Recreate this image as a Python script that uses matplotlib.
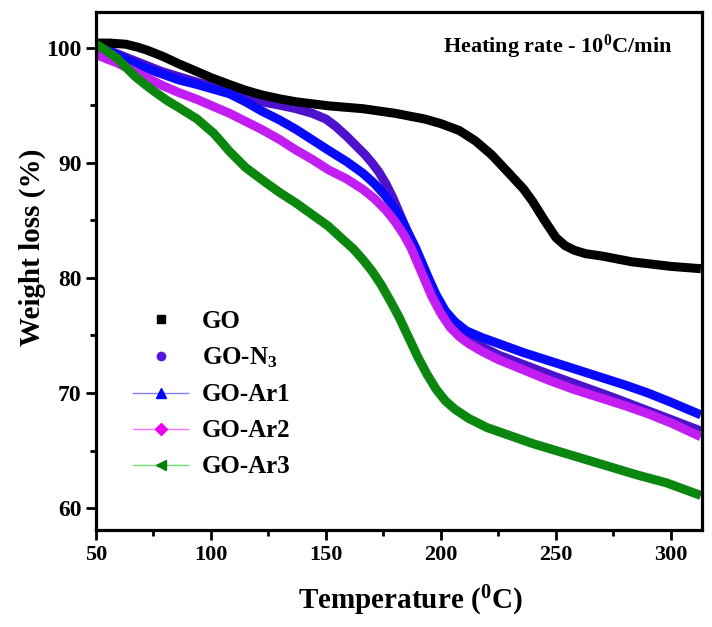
import matplotlib
matplotlib.use("Agg")
import matplotlib.pyplot as plt
from matplotlib.lines import Line2D

plt.rcParams['font.family'] = ['Liberation Serif', 'DejaVu Serif']
plt.rcParams['font.weight'] = 'bold'
plt.rcParams['mathtext.fontset'] = 'custom'
plt.rcParams['mathtext.rm'] = 'Liberation Serif:bold'
plt.rcParams['mathtext.it'] = 'Liberation Serif:bold'
plt.rcParams['mathtext.bf'] = 'Liberation Serif:bold'
plt.rcParams['mathtext.default'] = 'rm'

# ---- data ----
go_T = [50, 56, 63, 68, 72, 79, 86, 93, 100, 108, 115, 122, 130, 137, 145, 151, 166, 180, 193, 200, 208, 215, 222, 230, 236, 240, 245, 250, 254, 258, 263, 270, 283, 300, 313]
go_W = [100.4, 100.4, 100.3, 100.05, 99.8, 99.25, 98.6, 98.0, 97.4, 96.8, 96.3, 95.9, 95.55, 95.3, 95.1, 94.95, 94.7, 94.3, 93.8, 93.4, 92.8, 91.9, 90.7, 89.0, 87.7, 86.6, 85.0, 83.5, 82.8, 82.4, 82.1, 81.9, 81.4, 81.0, 80.8]

n3_T = [50, 54, 65, 79, 94, 108, 115, 122, 130, 137, 144, 150, 154, 159, 163, 167, 170, 173, 176, 179, 182, 185, 188, 191, 195, 200, 205, 210, 218, 225, 250, 275, 300, 313]
n3_W = [99.9, 99.9, 99.0, 97.9, 97.0, 96.2, 95.6, 95.3, 95.0, 94.7, 94.3, 93.8, 93.2, 92.3, 91.5, 90.7, 90.0, 89.2, 88.2, 87.0, 85.6, 84.2, 82.8, 81.0, 79.0, 77.1, 75.9, 75.0, 74.0, 73.3, 71.4, 69.6, 67.7, 66.7]

ar1_T = [50, 54, 60, 65, 72, 79, 86, 94, 101, 108, 115, 122, 130, 137, 144, 151, 159, 166, 171, 176, 180, 183, 186, 189, 192, 195, 198, 202, 206, 211, 218, 225, 236, 247, 258, 269, 280, 290, 300, 313]
ar1_W = [100.1, 99.8, 99.3, 98.8, 98.2, 97.7, 97.2, 96.8, 96.4, 96.0, 95.3, 94.5, 93.7, 92.9, 92.0, 91.1, 90.1, 89.1, 88.2, 87.1, 86.0, 85.0, 83.8, 82.6, 81.2, 79.8, 78.5, 77.1, 76.2, 75.4, 74.8, 74.3, 73.5, 72.8, 72.1, 71.4, 70.7, 70.0, 69.2, 68.1]

ar2_T = [50, 55, 59, 65, 72, 79, 86, 94, 101, 108, 115, 122, 130, 137, 144, 151, 159, 166, 171, 176, 180, 184, 187, 190, 193, 196, 200, 204, 208, 212, 218, 225, 236, 247, 258, 269, 280, 290, 300, 313]
ar2_W = [99.4, 99.0, 98.7, 98.1, 97.4, 96.7, 96.1, 95.5, 94.9, 94.3, 93.6, 92.9, 92.0, 91.1, 90.3, 89.4, 88.6, 87.7, 86.9, 85.9, 84.9, 83.7, 82.6, 81.2, 79.8, 78.4, 76.9, 75.7, 74.9, 74.3, 73.6, 72.9, 72.0, 71.1, 70.3, 69.6, 68.9, 68.2, 67.4, 66.2]

ar3_T = [50, 54, 59, 63, 67, 72, 76, 81, 86, 90, 94, 98, 101, 105, 108, 112, 115, 119, 123, 130, 137, 144, 151, 157, 162, 166, 170, 174, 178, 182, 186, 190, 194, 198, 202, 206, 212, 220, 230, 240, 255, 270, 285, 298, 313]
ar3_W = [100.3, 99.8, 99.1, 98.3, 97.5, 96.7, 96.1, 95.4, 94.8, 94.3, 93.8, 93.1, 92.6, 91.7, 91.0, 90.2, 89.6, 89.0, 88.4, 87.4, 86.5, 85.5, 84.5, 83.4, 82.5, 81.6, 80.6, 79.4, 78.0, 76.5, 74.8, 73.1, 71.6, 70.3, 69.3, 68.6, 67.8, 67.0, 66.3, 65.6, 64.7, 63.8, 62.9, 62.2, 61.1]

labels = ['GO', 'GO-N$_3$', 'GO-Ar1', 'GO-Ar2', 'GO-Ar3']
colors = ['#000000', '#4f12cc', '#0a0afa', '#c21ef2', '#0b860f']
leg_colors = ['#000000', '#5a14e0', '#0000ff', '#ee00ee', '#008000']
leg_line = ['#000000', '#5a14e0', '#8080ff', '#ff70ff', '#70dd70']
markers = ['s', 'o', '^', 'D', '<']

fig = plt.figure(figsize=(7.12, 6.27), dpi=100)
ax = fig.add_axes([96 / 712, 1 - 530 / 627, 606 / 712, 518 / 627])

series = [(n3_T, n3_W, 1), (go_T, go_W, 0), (ar1_T, ar1_W, 2), (ar2_T, ar2_W, 3), (ar3_T, ar3_W, 4)]
for T, W, i in series:
    ax.plot(T, W, color=colors[i], lw=6.5, solid_capstyle='butt', solid_joinstyle='round')

ax.set_xlim(50, 313.5)
ax.set_ylim(58.1, 103.1)
ax.set_xticks([50, 100, 150, 200, 250, 300])
ax.set_xticks([75, 125, 175, 225, 275], minor=True)
ax.set_yticks([60, 70, 80, 90, 100])
ax.set_yticks([65, 75, 85, 95], minor=True)
ax.tick_params(axis='both', which='major', direction='out', length=7.5, width=2, pad=3)
ax.tick_params(axis='both', which='minor', direction='out', length=4, width=2)
ax.tick_params(axis='x', which='major', labelsize=16)
ax.tick_params(axis='y', which='major', labelsize=17)
for s in ax.spines.values():
    s.set_linewidth(2.3)

ax.set_xlabel('Temperature ($^0$C)', fontsize=21, fontweight='bold')
ax.xaxis.set_label_coords(0.519, -0.103)
ax.set_ylabel('Weight loss (%)', fontsize=21, fontweight='bold')
ax.yaxis.set_label_coords(-0.083, 0.546)

ax.text(0.952, 0.921, 'Heating rate - 10$^0$C/min', transform=ax.transAxes,
        ha='right', va='baseline', fontsize=16, fontweight='bold')

handles = []
for i in range(5):
    if i < 2:
        h = Line2D([], [], linestyle='none', marker=markers[i], color=leg_colors[i],
                   markersize=5.5 if i == 0 else 6)
    else:
        h = Line2D([], [], linestyle='-', lw=1, color=leg_line[i], marker=markers[i],
                   markerfacecolor=leg_colors[i], markeredgecolor=leg_colors[i],
                   markersize=7 if i != 3 else 6)
    handles.append(h)
leg = ax.legend(handles, labels, loc='lower left', bbox_to_anchor=(0.024, 0.056), frameon=False,
                fontsize=18, handlelength=2.2, handletextpad=0.56, labelspacing=0.52)

fig.savefig('out.png', dpi=100)
